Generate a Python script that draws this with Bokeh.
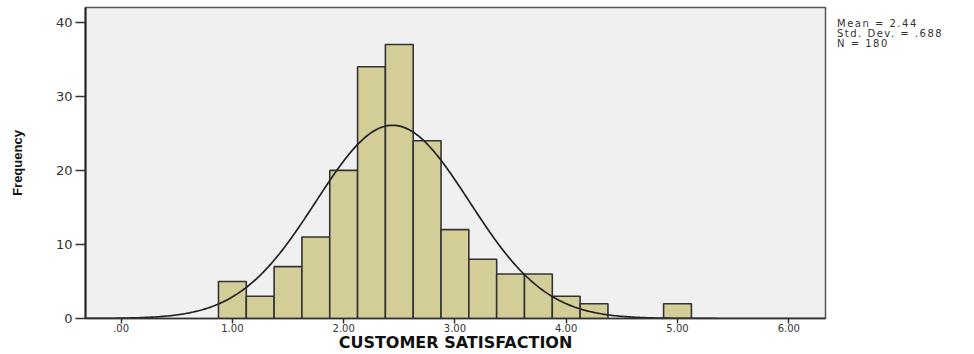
import numpy as np
from bokeh.plotting import figure
from bokeh.models import FixedTicker, Range1d, Div
from bokeh.layouts import row
from bokeh.embed import file_html
from bokeh.resources import INLINE

# ---- data ----
bin_centers = [1.00, 1.25, 1.50, 1.75, 2.00, 2.25, 2.50, 2.75, 3.00, 3.25, 3.50, 3.75, 4.00, 4.25, 5.00]
frequencies = [5, 3, 7, 11, 20, 34, 37, 24, 12, 8, 6, 6, 3, 2, 2]
bin_width = 0.25
mean_val = 2.44
std_val = 0.688
n_val = 180
x_ticks = [0, 1, 2, 3, 4, 5, 6]
x_tick_labels = [".00", "1.00", "2.00", "3.00", "4.00", "5.00", "6.00"]
y_ticks = [0, 10, 20, 30, 40]
stats_lines = ["Mean = 2.44", "Std. Dev. = .688", "N = 180"]

p = figure(width=835, height=354, output_backend="svg", toolbar_location=None,
           x_range=Range1d(-0.32, 6.33), y_range=Range1d(0, 42),
           min_border_left=85, min_border_right=10, min_border_top=7, min_border_bottom=36)

p.background_fill_color = "#F0F0F0"
p.border_fill_color = "white"
p.outline_line_color = "#555555"
p.outline_line_width = 1.5
p.xgrid.visible = False
p.ygrid.visible = False

lefts = [c - bin_width / 2 for c in bin_centers]
rights = [c + bin_width / 2 for c in bin_centers]
p.quad(left=lefts, right=rights, bottom=0, top=frequencies,
       fill_color="#D3CE98", line_color="#333333", line_width=1.6)

xs = np.linspace(-0.32, 6.33, 400)
ys = n_val * bin_width / (std_val * np.sqrt(2 * np.pi)) * np.exp(-0.5 * ((xs - mean_val) / std_val) ** 2)
p.line(xs, ys, line_color="#222222", line_width=1.7)

# x axis
p.xaxis.ticker = FixedTicker(ticks=x_ticks)
p.xaxis.major_label_overrides = {t: l for t, l in zip(x_ticks, x_tick_labels)}
p.xaxis.minor_tick_line_color = None
p.xaxis.major_tick_in = 0
p.xaxis.major_tick_out = 5
p.xaxis.major_tick_line_color = "#333333"
p.xaxis.major_tick_line_width = 1.5
p.xaxis.axis_line_color = "#333333"
p.xaxis.axis_line_width = 1.5
p.xaxis.major_label_text_font = "DejaVu Sans"
p.xaxis.major_label_text_font_size = "10px"
p.xaxis.major_label_text_color = "#333333"
p.xaxis.major_label_standoff = 0
p.xaxis.axis_label = "CUSTOMER SATISFACTION"
p.xaxis.axis_label_text_font = "DejaVu Sans"
p.xaxis.axis_label_text_font_style = "bold"
p.xaxis.axis_label_text_font_size = "16px"
p.xaxis.axis_label_text_color = "#111111"
p.xaxis.axis_label_standoff = -2

# y axis
p.yaxis.ticker = FixedTicker(ticks=y_ticks)
p.yaxis.minor_tick_line_color = None
p.yaxis.major_tick_in = 0
p.yaxis.major_tick_out = 10
p.yaxis.major_tick_line_color = "#333333"
p.yaxis.major_tick_line_width = 1.5
p.yaxis.axis_line_color = "#222222"
p.yaxis.axis_line_width = 2
p.yaxis.major_label_text_font = "DejaVu Sans"
p.yaxis.major_label_text_font_size = "13px"
p.yaxis.major_label_text_color = "#333333"
p.yaxis.major_label_standoff = 3
p.yaxis.axis_label = "Frequency"
p.yaxis.axis_label_text_font = "Liberation Sans"
p.yaxis.axis_label_text_font_style = "bold"
p.yaxis.axis_label_text_font_size = "13px"
p.yaxis.axis_label_text_color = "#111111"
p.yaxis.axis_label_standoff = 28

stats_html = ("<div style=\"font-family:'DejaVu Sans';font-size:10px;line-height:10px;"
              "letter-spacing:1.5px;color:#333333;padding-top:19px;padding-left:2px;white-space:nowrap\">"
              + "<br>".join(stats_lines) + "</div>")
stats = Div(text=stats_html, width=139, height=354, margin=(0, 0, 0, 0))

layout = row(p, stats, spacing=0)
open("out.html", "w").write(file_html(layout, INLINE))
